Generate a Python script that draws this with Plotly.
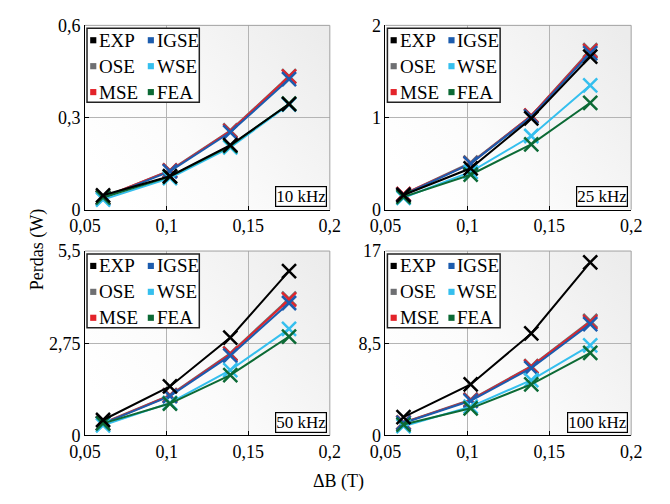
import base64
import plotly.graph_objects as go

# ---------------- data ----------------
delta_B = [0.061, 0.102, 0.139, 0.175]
freq_labels = ["10 kHz", "25 kHz", "50 kHz", "100 kHz"]
methods = ["EXP", "IGSE", "OSE", "WSE", "MSE", "FEA"]

EXP = [[0.047, 0.109, 0.210, 0.344],
       [0.16, 0.45, 0.99, 1.66],
       [0.46, 1.46, 2.92, 4.90],
       [1.68, 4.70, 9.40, 15.95]]
IGSE = [[0.038, 0.125, 0.252, 0.425],
        [0.16, 0.50, 1.01, 1.70],
        [0.35, 1.17, 2.38, 3.95],
        [1.15, 3.19, 6.20, 10.27]]
OSE = [[0.040, 0.128, 0.258, 0.435],
       [0.17, 0.51, 1.02, 1.73],
       [0.37, 1.20, 2.45, 4.08],
       [1.20, 3.30, 6.40, 10.55]]
MSE = [[0.040, 0.127, 0.256, 0.433],
       [0.17, 0.50, 1.02, 1.72],
       [0.36, 1.19, 2.43, 4.05],
       [1.18, 3.25, 6.35, 10.45]]
WSE = [[0.033, 0.103, 0.203, 0.342],
       [0.13, 0.41, 0.80, 1.35],
       [0.30, 0.97, 1.95, 3.18],
       [0.85, 2.65, 5.10, 8.30]]
FEA = [[0.040, 0.108, 0.208, 0.345],
       [0.14, 0.38, 0.71, 1.16],
       [0.36, 0.95, 1.80, 2.95],
       [1.00, 2.50, 4.70, 7.60]]

x_ticks = [0.05, 0.1, 0.15, 0.2]
y_ticks = [[0, 0.3, 0.6], [0, 1, 2], [0, 2.75, 5.5], [0, 8.5, 17]]

series = {"EXP": EXP, "IGSE": IGSE, "OSE": OSE, "WSE": WSE, "MSE": MSE, "FEA": FEA}
colors = {"EXP": "#000000", "IGSE": "#1c5cae", "OSE": "#6e6f72",
          "WSE": "#35bfee", "MSE": "#e3232a", "FEA": "#0c6a35"}
draw_order = ["OSE", "MSE", "IGSE", "WSE", "FEA", "EXP"]

FONT = "Liberation Serif"

# ---------------- layout geometry ----------------
W, H = 670, 504
xdom = [[72 / W, 327 / W], [385 / W, 641 / W]]
ydom = [[1 - 208 / H, 1 - 16 / H], [1 - 443 / H, 1 - 251 / H]]

fig = go.Figure()

svg = ('<svg xmlns="http://www.w3.org/2000/svg" viewBox="0 0 100 100" '
       'preserveAspectRatio="none" width="100" height="100">'
       '<defs><linearGradient id="g" x1="0" y1="0.7" x2="1" y2="0.1">'
       '<stop offset="0" stop-color="#ffffff"/>'
       '<stop offset="0.35" stop-color="#fbfbfb"/>'
       '<stop offset="1" stop-color="#ececec"/></linearGradient></defs>'
       '<rect x="0" y="0" width="100" height="100" fill="url(#g)"/></svg>')
bg_src = "data:image/svg+xml;base64," + base64.b64encode(svg.encode()).decode()

images, shapes, annotations = [], [], []
layout_axes = {}

for i in range(4):
    r, c = divmod(i, 2)
    n = "" if i == 0 else str(i + 1)
    xa, ya = "x" + n, "y" + n
    ymax = y_ticks[i][-1]
    for m in draw_order:
        fig.add_trace(go.Scatter(
            x=delta_B, y=series[m][i], mode="lines+markers", name=m,
            xaxis=xa, yaxis=ya, showlegend=False,
            line=dict(color=colors[m], width=2),
            marker=dict(symbol="x-thin", size=14, color=colors[m],
                        line=dict(color=colors[m], width=2.5))))
    common = dict(showgrid=True, gridcolor="#b4b4b4", gridwidth=1,
                  zeroline=False, showline=True, linecolor="#000000",
                  linewidth=1, ticks="inside", ticklen=4, tickcolor="#000000",
                  tickfont=dict(family=FONT, size=18, color="#000000"))
    layout_axes["xaxis" + n] = dict(domain=xdom[c], range=[0.05, 0.2],
                                    tickvals=x_ticks, anchor=ya, **common)
    layout_axes["yaxis" + n] = dict(domain=ydom[r], range=[0, ymax],
                                    tickvals=y_ticks[i], anchor=xa, **common)

    xd, yd = xa + " domain", ya + " domain"
    images.append(dict(source=bg_src, xref=xd, yref=yd, x=0, y=1, sizex=1,
                       sizey=1, xanchor="left", yanchor="top",
                       sizing="stretch", layer="below"))
    # gray top and right borders
    shapes.append(dict(type="line", xref=xd, yref=yd, x0=0, x1=1, y0=1, y1=1,
                       line=dict(color="#a0a0a0", width=1)))
    shapes.append(dict(type="line", xref=xd, yref=yd, x0=1, x1=1, y0=0, y1=1,
                       line=dict(color="#a0a0a0", width=1)))
    # legend box
    pw, ph = 255.0, 192.0
    shapes.append(dict(type="rect", xref=xd, yref=yd,
                       x0=2 / pw, x1=119 / pw, y0=1 - 80 / ph, y1=1 - 3 / ph,
                       fillcolor="#ffffff", line=dict(color="#222222", width=1.5)))
    leg_rows = [["EXP", "IGSE"], ["OSE", "WSE"], ["MSE", "FEA"]]
    row_y = [15.5, 42.5, 69.5]
    col_sq = [8.5, 68.5]
    col_tx = [12.5, 72.5]
    for ri, row in enumerate(leg_rows):
        for ci, m in enumerate(row):
            yc = 1 - row_y[ri] / ph
            shapes.append(dict(type="rect", xref=xd, yref=yd,
                               x0=(col_sq[ci] - 3.2) / pw, x1=(col_sq[ci] + 3.2) / pw,
                               y0=yc - 3.2 / ph, y1=yc + 3.2 / ph,
                               fillcolor=colors[m], line=dict(width=0)))
            annotations.append(dict(text=m, xref=xd, yref=yd, x=col_tx[ci] / pw,
                                    y=yc, xanchor="left", yanchor="middle",
                                    showarrow=False,
                                    font=dict(family=FONT, size=19, color="#000")))
    # frequency label
    annotations.append(dict(text=freq_labels[i], xref=xd, yref=yd,
                            x=1 - 3 / pw, y=3 / ph, xanchor="right",
                            yanchor="bottom", showarrow=False,
                            bgcolor="#ffffff", bordercolor="#000000",
                            borderwidth=1.2, borderpad=0,
                            font=dict(family=FONT, size=17, color="#000")))

annotations.append(dict(text="Perdas (W)", xref="paper", yref="paper",
                        x=22 / W, y=1 - 250 / H, textangle=-90, showarrow=False,
                        xanchor="center", yanchor="middle",
                        font=dict(family=FONT, size=18, color="#000")))
annotations.append(dict(text="ΔB (T)", xref="paper", yref="paper",
                        x=336 / W, y=1 - 491 / H, showarrow=False,
                        xanchor="center", yanchor="middle",
                        font=dict(family=FONT, size=18, color="#000")))

fig.update_layout(width=W, height=H, margin=dict(l=0, r=0, t=0, b=0),
                  paper_bgcolor="#ffffff", plot_bgcolor="rgba(0,0,0,0)",
                  separators=",.", showlegend=False,
                  font=dict(family=FONT, size=18, color="#000"),
                  images=images, shapes=shapes, annotations=annotations,
                  **layout_axes)

fig.write_html("out.html")
